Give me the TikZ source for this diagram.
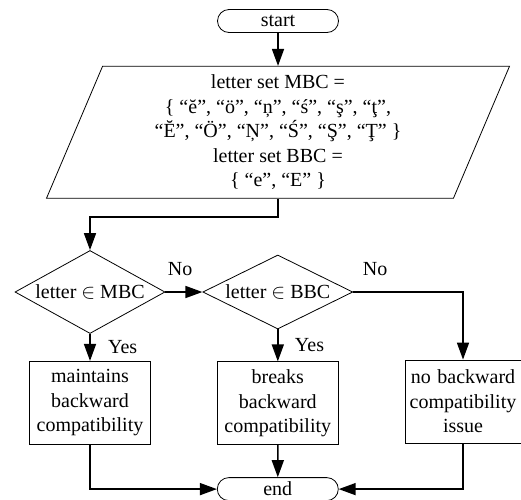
\documentclass[tikz,border=0pt]{standalone}
\usepackage{fontspec}
\setmainfont{Liberation Serif}
\usetikzlibrary{positioning,shapes.geometric,shapes.misc,arrows.meta}

\tikzset{
    term/.style={draw, line width=0.8pt, rounded rectangle, minimum width=121pt, minimum height=23pt, inner sep=0pt},
    io/.style={draw, line width=0.8pt, trapezium, trapezium left angle=64, trapezium right angle=116,
        trapezium stretches body=true, minimum width=463pt, minimum height=132pt, align=center, inner sep=0pt},
    decision/.style={draw, line width=0.8pt, diamond, aspect=1.8, minimum width=150pt, minimum height=83pt, inner sep=0pt},
    process/.style={draw, line width=0.8pt, rectangle, text width=113pt, align=center, minimum height=83pt, inner sep=4pt},
    flow/.style={line width=1.6pt, -{Triangle[length=17pt,width=12pt]}},
}

\begin{document}
\begin{tikzpicture}[x=1pt, y=1pt, font=\fontsize{20}{24.5}\selectfont]
            \useasboundingbox (0,0) rectangle (521,-499);
                \node[term] (start) at (278,-21) {start};
                \node[io, below=33pt of start] (sets) {letter set MBC =\\
                    \{ “ĕ”, “ö”, “ņ”, “ś”, “ş”, “ţ”,\\
                    “Ĕ”, “Ö”, “Ņ”, “Ś”, “Ş”, “Ţ” \}\\
                    letter set BBC =\\
                    \{ “e”, “E” \}};
                \node[decision] (inM) at (90,-292) {letter $\in$ MBC};
                \node[decision, aspect=2.05, minimum height=74pt, right=37pt of inM] (inB) {letter $\in$ BBC};
                \node[process, below=27pt of inM] (keeps) {maintains backward compatibility};
                \node[process, below=32pt of inB] (breaks) {breaks backward compatibility};
                \node[process, text width=108pt] (noissue) at (463,-401.5) {no backward compatibility issue};
                \node[term, below=32pt of breaks] (end) {end};

                \draw[flow] (start) -- (sets);
                \draw[flow] (sets.south) -- ++(0,-18) -| (inM.north);
                \draw[flow] (inM) -- node[pos=0.4, above=12pt] {No} (inB);
                \draw[flow] (inB) -| node[pos=0.1, above=12pt] {No} (noissue);
                \draw[flow] (inM) -- node[right=14pt] {Yes} (keeps);
                \draw[flow] (inB) -- node[right=13pt] {Yes} (breaks);
                \draw[flow] (keeps) |- (end);
                \draw[flow] (breaks) -- (end);
                \draw[flow] (noissue) |- (end);
        \end{tikzpicture}
\end{document}
